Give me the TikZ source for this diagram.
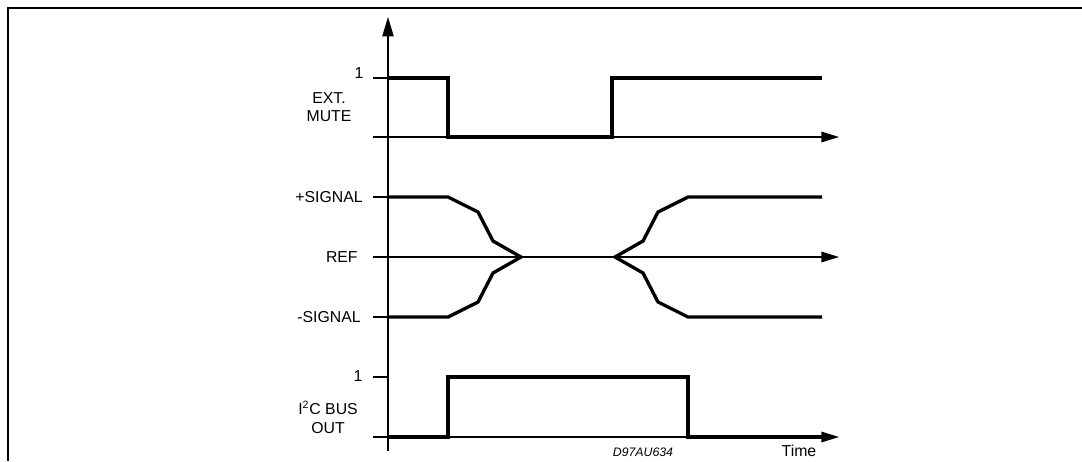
\documentclass[tikz,border=0pt]{standalone}
\usepackage{fontspec}
\setmainfont{Liberation Sans}
\usetikzlibrary{arrows.meta, positioning}

\begin{document}
\begin{tikzpicture}[x=0.02cm, y=-0.02cm,
		every node/.style={font=\fontsize{9}{10.5}\selectfont, inner sep=0pt},
		axisline/.style={line width=0.75pt},
		timeaxis/.style={axisline, -{Triangle[length=10pt, width=6pt]}},
		wave/.style={line width=1.9pt, line join=miter}]
			\useasboundingbox (0,0) rectangle (1082,461);
			\draw [line width=1.3pt] (8,461) -- (8,8) -- (1082,8);
			
			% axes
			\draw [axisline, -{Triangle[length=11pt, width=6.4pt]}] (388,451) -- (388,17);
			\foreach \y in {78,197,317,377}
				\draw [axisline] (373,\y) -- (388,\y);
			\foreach \y in {137,257,437}
				\draw [timeaxis] (373,\y) -- (839,\y);
			
			% waveforms
			\draw [wave] (388,78) -- (448,78) -- (448,137) -- (612,137) -- (612,78) -- (822,78);
			\draw [wave] (388,197) -- (448,197) -- (478,212) -- (493,241) -- (521,257)
				-- (493,273) -- (478,302) -- (448,317) -- (388,317);
			\draw [wave] (822,197) -- (688,197) -- (658,212) -- (643,241) -- (615,257)
				-- (643,273) -- (658,302) -- (688,317) -- (822,317);
			\draw [wave] (388,437) -- (448,437) -- (448,377) -- (688,377) -- (688,437) -- (822,437);
			
			% labels
			\node (muteone) at (359,73) {1};
			\node [align=center] (mute) at (329,107) {EXT.\\MUTE};
			\foreach \y/\xe/\val/\nm in {197/363/+SIGNAL/psig, 257/358/REF/ref, 317/361/-SIGNAL/nsig}
				\node [anchor=east] (\nm) at (\xe,\y) {\val};
			\node (busone) at (358,376) {1};
			\node [align=center] (bus) at (328,417) {I\textsuperscript{2}C BUS\\OUT};
			\node [font=\fontsize{7}{8}\selectfont\itshape] (code) at (643,452) {D97AU634};
			\node (time) at (799,451) {Time};
\end{tikzpicture}
\end{document}
